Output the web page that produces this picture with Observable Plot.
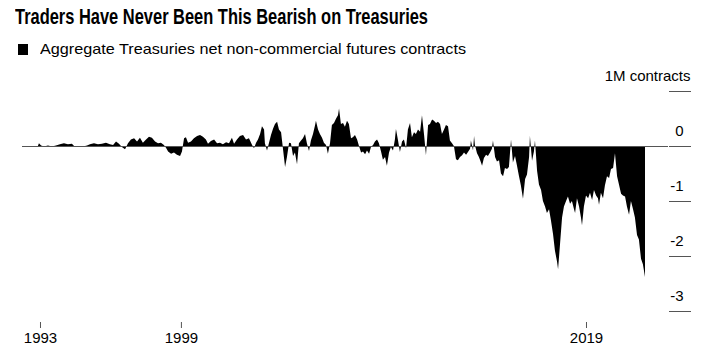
<!DOCTYPE html>
<html><head><meta charset="utf-8">
<script src="https://cdn.jsdelivr.net/npm/d3@7"></script>
<script src="https://cdn.jsdelivr.net/npm/@observablehq/plot@0.6"></script>
<style>
body{margin:0;background:#fff;font-family:"Liberation Sans",Arial,sans-serif;color:#000}
#wrap{position:relative;width:704px;height:351px;overflow:hidden;background:#fff}
#title{position:absolute;left:15px;top:6px;font-weight:bold;font-size:22px;line-height:22px;white-space:nowrap;transform-origin:0 0}
#sub{position:absolute;left:18px;top:40px;height:18px;font-size:15px;line-height:18px;white-space:nowrap}
#sub .sw{position:absolute;left:0;top:4px;width:10px;height:11px;background:#000}
#sub .tx{position:absolute;left:22px;top:0;transform-origin:0 0}
#chart{position:absolute;left:0;top:62px}
</style></head>
<body>
<div id="wrap">
  <div id="title">Traders Have Never Been This Bearish on Treasuries</div>
  <div id="sub"><span class="sw"></span><span class="tx">Aggregate Treasuries net non-commercial futures contracts</span></div>
  <div id="chart"></div>
</div>
<script>
// Observation dates (decimal years)
const dates = [1992.90,1992.95,1993.05,1993.19,1993.38,1993.57,1993.76,1993.95,1994.14,1994.33,1994.52,1994.67,1994.86,1995.05,1995.24,1995.38,1995.57,1995.76,1995.95,1996.14,1996.33,1996.48,1996.62,1996.76,1996.90,1997.05,1997.19,1997.33,1997.48,1997.62,1997.76,1997.90,1998.05,1998.19,1998.33,1998.48,1998.62,1998.76,1998.90,1999.00,1999.10,1999.24,1999.38,1999.52,1999.67,1999.76,1999.86,1999.95,2000.05,2000.19,2000.33,2000.48,2000.62,2000.76,2000.90,2001.00,2001.14,2001.29,2001.43,2001.57,2001.71,2001.86,2002.00,2002.14,2002.24,2002.38,2002.52,2002.67,2002.81,2002.95,2003.10,2003.19,2003.29,2003.38,2003.48,2003.57,2003.67,2003.71,2003.81,2003.90,2004.00,2004.10,2004.19,2004.29,2004.38,2004.48,2004.57,2004.67,2004.76,2004.86,2004.95,2005.05,2005.14,2005.24,2005.33,2005.43,2005.52,2005.62,2005.71,2005.81,2005.90,2006.00,2006.10,2006.14,2006.24,2006.33,2006.43,2006.52,2006.62,2006.71,2006.81,2006.90,2007.00,2007.10,2007.19,2007.24,2007.33,2007.43,2007.52,2007.62,2007.71,2007.81,2007.90,2008.00,2008.10,2008.19,2008.29,2008.38,2008.48,2008.57,2008.67,2008.76,2008.86,2008.95,2009.05,2009.14,2009.24,2009.33,2009.43,2009.52,2009.62,2009.71,2009.81,2009.90,2009.95,2010.05,2010.14,2010.24,2010.33,2010.43,2010.52,2010.62,2010.71,2010.81,2010.90,2011.00,2011.10,2011.19,2011.29,2011.38,2011.48,2011.57,2011.67,2011.76,2011.86,2011.95,2012.05,2012.14,2012.24,2012.33,2012.43,2012.52,2012.62,2012.71,2012.81,2012.90,2013.00,2013.10,2013.19,2013.29,2013.38,2013.48,2013.52,2013.62,2013.67,2013.71,2013.81,2013.90,2014.00,2014.05,2014.14,2014.24,2014.33,2014.43,2014.52,2014.57,2014.67,2014.76,2014.86,2014.95,2015.05,2015.14,2015.24,2015.33,2015.43,2015.52,2015.62,2015.71,2015.81,2015.90,2016.00,2016.10,2016.19,2016.29,2016.33,2016.43,2016.52,2016.57,2016.67,2016.76,2016.86,2016.95,2017.05,2017.14,2017.24,2017.33,2017.43,2017.52,2017.62,2017.67,2017.76,2017.86,2017.95,2018.05,2018.14,2018.24,2018.33,2018.43,2018.48,2018.57,2018.67,2018.76,2018.81,2018.90,2019.00,2019.10,2019.19,2019.29,2019.38,2019.48,2019.57,2019.62,2019.71,2019.81,2019.90,2020.00,2020.10,2020.19,2020.29,2020.38,2020.48,2020.57,2020.67,2020.76,2020.86,2020.95,2021.05,2021.14,2021.24,2021.33,2021.43,2021.52,2021.62,2021.71,2021.81];
// Net non-commercial contracts, millions
const netContracts = [0.00,0.05,0.01,-0.01,0.01,-0.01,0.01,0.03,0.05,0.03,0.04,-0.02,0.00,-0.01,0.01,0.03,0.05,0.03,0.04,0.06,0.03,0.02,0.08,0.04,-0.02,-0.06,0.05,0.12,0.14,0.08,0.15,0.06,0.12,0.17,0.15,0.08,0.05,0.06,0.02,-0.03,-0.10,-0.14,-0.12,-0.16,-0.18,-0.10,0.14,0.16,0.06,0.08,0.14,0.18,0.20,0.17,0.12,0.04,0.09,0.12,0.05,0.06,0.03,0.07,0.05,0.15,0.04,0.12,0.18,0.20,0.12,0.14,0.02,-0.04,0.06,0.12,0.22,0.36,0.30,0.05,-0.08,0.05,0.20,0.32,0.40,0.44,0.30,0.25,-0.05,-0.38,-0.20,0.06,0.05,-0.18,-0.12,-0.33,0.05,0.10,0.14,0.22,0.05,-0.09,0.10,0.22,0.38,0.46,0.30,0.22,0.15,0.06,0.02,-0.14,0.05,0.38,0.42,0.50,0.56,0.68,0.40,0.42,0.35,0.46,0.40,0.14,0.16,0.20,0.12,0.00,-0.12,-0.10,-0.15,-0.08,-0.14,-0.02,0.02,0.08,0.12,0.05,-0.10,-0.25,-0.20,-0.36,-0.12,-0.02,-0.08,0.12,0.31,0.10,-0.11,0.08,0.12,-0.04,0.30,0.42,0.16,0.25,0.22,0.30,0.26,0.56,0.20,-0.17,0.38,0.40,0.48,0.46,0.42,0.44,0.40,0.22,0.30,0.38,0.36,0.10,0.05,0.00,-0.24,-0.26,-0.20,-0.17,-0.12,-0.16,-0.11,-0.05,0.10,-0.08,0.18,0.02,-0.13,-0.20,-0.30,-0.36,-0.22,-0.16,-0.18,-0.12,-0.05,0.10,-0.20,-0.28,-0.26,-0.50,-0.55,-0.40,-0.42,-0.38,0.12,-0.30,-0.18,-0.35,-0.55,-0.72,-0.96,-0.60,-0.52,-0.20,0.18,-0.27,-0.10,0.10,-0.45,-0.70,-0.80,-1.00,-1.10,-1.22,-1.15,-1.35,-1.60,-1.90,-2.10,-2.24,-1.80,-1.30,-1.10,-1.00,-0.92,-1.05,-1.00,-1.15,-1.22,-0.95,-1.10,-1.30,-1.44,-1.10,-0.90,-0.95,-0.85,-0.98,-0.80,-0.90,-0.95,-1.07,-0.85,-0.95,-0.72,-0.55,-0.58,-0.42,-0.40,-0.13,-0.55,-0.70,-0.87,-0.90,-0.92,-1.10,-1.25,-1.00,-1.15,-1.30,-1.62,-1.70,-2.05,-2.15,-2.38];
const xTicks = [1993, 1999.71, 2019];
const xTickLabels = ["1993", "1999", "2019"];
const yTicks = [0, -1, -2, -3];
const yTickLabels = ["0", "-1", "-2", "-3"];
const yUnitTick = [1];
const yUnitLabel = "1M contracts";

const data = dates.map((d, i) => ({date: d, value: netContracts[i]}));
const xLab = new Map(xTicks.map((t, i) => [t, xTickLabels[i]]));
const yLab = new Map(yTicks.map((t, i) => [t, yTickLabels[i]]));
const allYTicks = yUnitTick.concat(yTicks);

const chart = Plot.plot({
  width: 704,
  height: 289,
  marginTop: 29,
  marginBottom: 29,
  marginLeft: 22,
  marginRight: 36,
  x: {type: "linear", domain: [1992.143, 2022.905], label: null},
  y: {domain: [-3.2, 1], label: null},
  style: {fontFamily: "'Liberation Sans', Arial, sans-serif", fontSize: "15px", color: "#000", background: "#fff", overflow: "visible"},
  marks: [
    Plot.areaY(data, {x: "date", y: "value", fill: "#000"}),
    Plot.ruleY([0], {stroke: "#555", strokeWidth: 1}),
    // short tick lines at the right
    Plot.axisY(allYTicks, {anchor: "right", label: null, tickSize: 22, stroke: "#555", tickFormat: () => ""}),
    // labels sitting above the tick lines
    Plot.axisY(yTicks, {anchor: "right", label: null, tickSize: 0, tickPadding: 15, textAnchor: "end", dy: -15, fill: "#000", tickFormat: d => yLab.get(d)}),
    Plot.axisY(yUnitTick, {anchor: "right", label: null, tickSize: 0, tickPadding: 22, textAnchor: "end", dy: -15, fill: "#000", tickFormat: () => yUnitLabel}),
    Plot.axisX(xTicks, {anchor: "bottom", label: null, tickSize: 6, tickPadding: 4, stroke: "#555", fill: "#000", tickFormat: d => xLab.get(d)})
  ]
});
document.getElementById("chart").appendChild(chart);

// fit title / subtitle text widths to the reference
function fit(el, target) {
  const w = el.getBoundingClientRect().width;
  el.style.transform = `scaleX(${target / w})`;
}
const t = document.getElementById("title");
t.style.display = "inline-block";
fit(t, 413);
fit(document.querySelector("#sub .tx"), 426);
</script>
</body></html>
